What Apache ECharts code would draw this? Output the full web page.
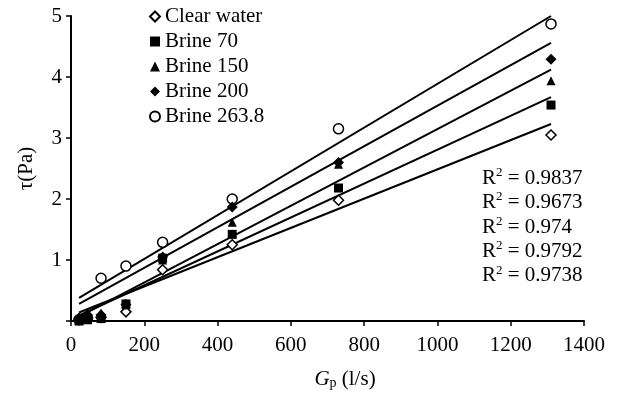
<!DOCTYPE html>
<html>
<head>
<meta charset="utf-8">
<script src="https://cdn.jsdelivr.net/npm/echarts@6/dist/echarts.min.js"></script>
<style>html,body{margin:0;padding:0;background:#fff}#c{width:621px;height:398px}</style>
</head>
<body>
<div id="c"></div>
<script>
// Flow rate values (x) shared by all series
const flowRates = [22, 45, 82, 150, 250, 440, 730, 1310];
const seriesNames = ['Clear water', 'Brine 70', 'Brine 150', 'Brine 200', 'Brine 263.8'];
// Shear stress values
const clearWater = [0.03, 0.05, 0.06, 0.15, 0.84, 1.25, 1.98, 3.05];
const brine70    = [0.00, 0.02, 0.04, 0.28, 1.03, 1.42, 2.18, 3.54];
const brine150   = [0.04, 0.08, 0.13, 0.27, 1.00, 1.62, 2.57, 3.94];
const brine200   = [0.05, 0.10, 0.10, 0.27, 1.05, 1.87, 2.60, 4.29];
const brine2638  = [0.02, 0.05, 0.70, 0.90, 1.29, 2.00, 3.15, 4.87];
// Linear trendlines: x range and y at both ends
const trendX = [22, 1310];
const trendStart = [0.14, 0.09, 0.07, 0.28, 0.38];
const trendEnd   = [3.23, 3.67, 4.12, 4.56, 5.00];
const r2Values = ['0.9837', '0.9673', '0.974', '0.9792', '0.9738'];
const xTicks = { min: 0, max: 1400, interval: 200 };
const yTicks = { min: 0, max: 5, interval: 1 };

const allValues = [clearWater, brine70, brine150, brine200, brine2638];
const symbols = ['diamond', 'rect', 'triangle', 'diamond', 'circle'];
const sizes = [10, 9, 9, 11, 10];
const fills = ['#fff', '#000', '#000', '#000', '#fff'];
const zs = [3, 3, 4, 3, 2];
const FONT = 'Liberation Serif';

const series = [];
seriesNames.forEach((name, i) => {
  series.push({
    type: 'line', name: name + ' trend', silent: true, symbol: 'none', z: 1,
    lineStyle: { color: '#000', width: 2 },
    data: [[trendX[0], trendStart[i]], [trendX[1], trendEnd[i]]]
  });
});
seriesNames.forEach((name, i) => {
  series.push({
    type: 'scatter', name: name, symbol: symbols[i], symbolSize: sizes[i], z: zs[i],
    itemStyle: { color: fills[i], borderColor: '#000', borderWidth: fills[i] === '#fff' ? 1.5 : 0, opacity: 1 },
    data: flowRates.map((x, k) => [x, allValues[i][k]])
  });
});

const r2Text = r2Values.map(v => '{n|R}{s|2}{n| = ' + v + '}').join('\n');

const chart = echarts.init(document.getElementById('c'), null, { renderer: 'canvas' });
chart.setOption({
  backgroundColor: '#fff',
  animation: false,
  textStyle: { fontFamily: FONT, color: '#000' },
  grid: { left: 71, right: 37, top: 16, bottom: 77 },
  legend: {
    orient: 'vertical', left: 149, top: 4, padding: 0,
    itemWidth: 10, itemHeight: 10, itemGap: 0, itemTextGap: 15,
    textStyle: { fontFamily: FONT, fontSize: 21, color: '#000', lineHeight: 25 },
    data: seriesNames
  },
  title: {
    text: r2Text, left: 482, top: 166, padding: 0,
    textStyle: {
      fontFamily: FONT, fontWeight: 'normal', color: '#000', lineHeight: 24.4,
      rich: {
        n: { fontFamily: FONT, fontSize: 21, color: '#000', lineHeight: 24.4 },
        s: { fontFamily: FONT, fontSize: 13, color: '#000', verticalAlign: 'top', lineHeight: 13 }
      }
    }
  },
  xAxis: {
    type: 'value', min: xTicks.min, max: xTicks.max, interval: xTicks.interval,
    name: '{g|G}{s|p}{n| (l/s)}', nameLocation: 'middle', nameGap: 48,
    nameTextStyle: {
      padding: [0, 0, 0, 35],
      rich: {
        g: { fontFamily: FONT, fontSize: 21, fontStyle: 'italic', color: '#000' },
        s: { fontFamily: FONT, fontSize: 14, color: '#000', verticalAlign: 'bottom', lineHeight: 14, padding: [8, 0, 0, 0] },
        n: { fontFamily: FONT, fontSize: 21, color: '#000' }
      }
    },
    axisLine: { show: true, lineStyle: { color: '#000', width: 2 } },
    axisTick: { show: true, inside: false, length: 5, lineStyle: { color: '#000', width: 1.5 } },
    axisLabel: { fontFamily: FONT, fontSize: 21, color: '#000', margin: 14,
      formatter: v => String(v) },
    splitLine: { show: false }
  },
  yAxis: {
    type: 'value', min: yTicks.min, max: yTicks.max, interval: yTicks.interval,
    name: 'τ(Pa)', nameLocation: 'middle', nameGap: 34, nameRotate: 90,
    nameTextStyle: { fontFamily: FONT, fontSize: 21, color: '#000' },
    axisLine: { show: true, lineStyle: { color: '#000', width: 2 } },
    axisTick: { show: true, inside: false, length: 5, lineStyle: { color: '#000', width: 1.5 } },
    axisLabel: { fontFamily: FONT, fontSize: 21, color: '#000', margin: 9,
      formatter: v => (v === 0 ? '' : String(v)) },
    splitLine: { show: false }
  },
  series: series
});
</script>
</body>
</html>
